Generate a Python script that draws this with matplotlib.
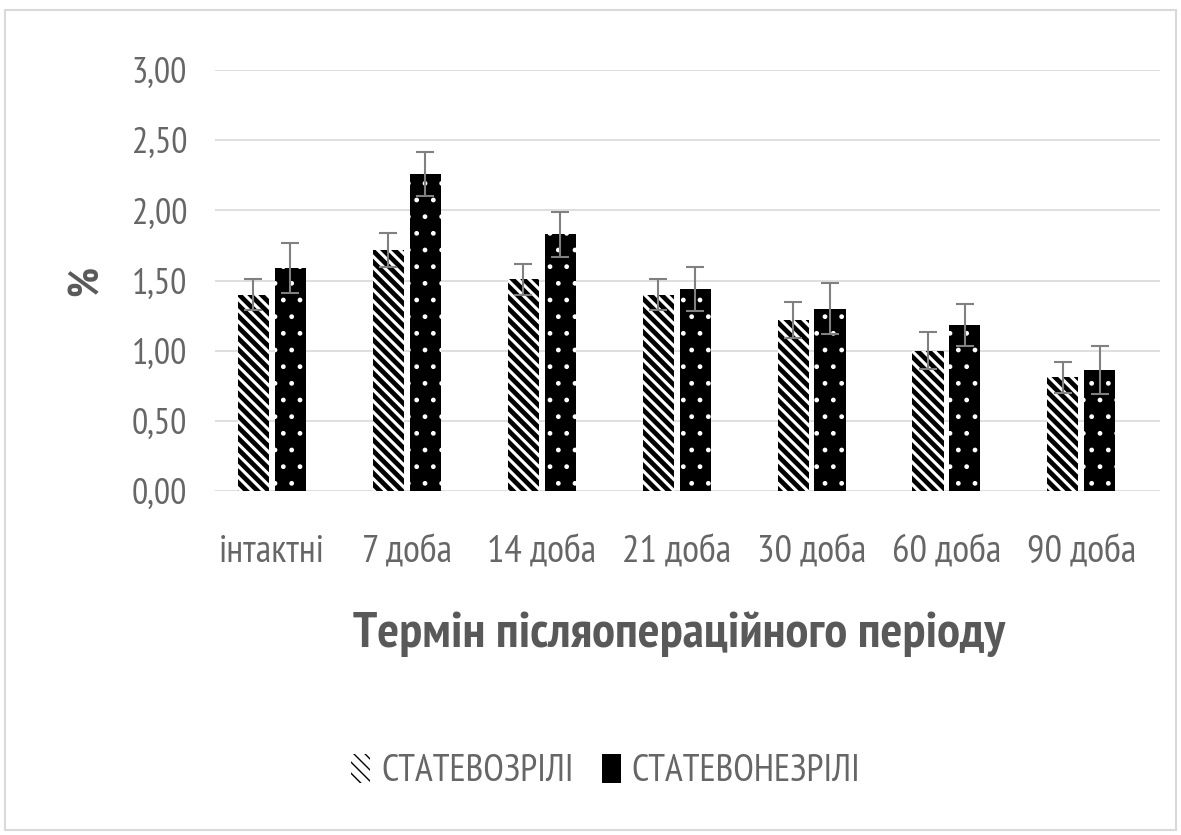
import matplotlib
matplotlib.use("Agg")
import matplotlib.pyplot as plt
from matplotlib.patches import Patch, Rectangle
import numpy as np

categories = ["інтактні", "7 доба", "14 доба", "21 доба", "30 доба", "60 доба", "90 доба"]
mature = [1.40, 1.72, 1.51, 1.40, 1.22, 1.00, 0.81]
mature_err = [0.11, 0.12, 0.11, 0.11, 0.13, 0.13, 0.11]
immature = [1.59, 2.26, 1.83, 1.44, 1.30, 1.18, 0.86]
immature_err = [0.18, 0.16, 0.16, 0.16, 0.18, 0.15, 0.17]
yticks = [0.0, 0.5, 1.0, 1.5, 2.0, 2.5, 3.0]
series_names = ["СТАТЕВОЗРІЛІ", "СТАТЕВОНЕЗРІЛІ"]

FONT = ["PT Sans Narrow", "DejaVu Sans"]
plt.rcParams["font.family"] = FONT

fig = plt.figure(figsize=(11.81, 8.35), dpi=100)
ax = fig.add_axes([0.182, 0.412, 0.800, 0.504])

x = np.arange(len(categories))
w = 0.23
off = 0.137
with plt.rc_context({"hatch.linewidth": 3.4}):
    ax.bar(x - off, mature, width=w, facecolor="white", edgecolor="black",
           hatch="\\\\\\", linewidth=0, zorder=2)
    h1 = Patch(facecolor="white", edgecolor="black", hatch="\\\\\\", linewidth=0)
with plt.rc_context({"hatch.linewidth": 1.0}):
    ax.bar(x + off, immature, width=w, facecolor="black", edgecolor="white",
           hatch=".", linewidth=0, zorder=2)
    h2 = Patch(facecolor="black", edgecolor="black", linewidth=0)
ax.errorbar(x - off, mature, yerr=mature_err, fmt="none", ecolor="#808080",
            elinewidth=1.5, capsize=6.5, capthick=1.5, zorder=3)
ax.errorbar(x + off, immature, yerr=immature_err, fmt="none", ecolor="#808080",
            elinewidth=1.5, capsize=6.5, capthick=1.5, zorder=3)

ax.set_xlim(-0.42, 6.58)
ax.set_ylim(0, 3.0)
ax.set_yticks(yticks)
ax.set_yticklabels([f"{v:.2f}".replace(".", ",") for v in yticks])
ax.set_xticks(x)
ax.set_xticklabels(categories)
ax.yaxis.grid(True, color="#d9d9d9", linewidth=1.2, zorder=0)
ax.set_axisbelow(True)
for s in ax.spines.values():
    s.set_visible(False)
ax.tick_params(axis="both", length=0, colors="#666666")
ax.tick_params(axis="y", pad=20, labelsize=26)
ax.tick_params(axis="x", pad=32, labelsize=28)

ax.set_ylabel("%", fontsize=30, color="#595959", fontweight="bold", labelpad=18)
fig.text(0.575, 0.241, "Термін післяопераційного періоду", ha="center", va="center",
         fontsize=37, color="#595959", fontweight="bold")

fig.legend([h1, h2], series_names, loc="center", bbox_to_anchor=(0.513, 0.076),
           ncol=2, frameon=False, fontsize=27, handlelength=0.5, handleheight=0.8,
           handletextpad=0.3, columnspacing=0.75, labelcolor="#666666")

fig.add_artist(Rectangle((0.004, 0.006), 0.992, 0.982, transform=fig.transFigure,
                         fill=False, edgecolor="#d9d9d9", linewidth=1.5))

fig.savefig("out.png", dpi=100)
